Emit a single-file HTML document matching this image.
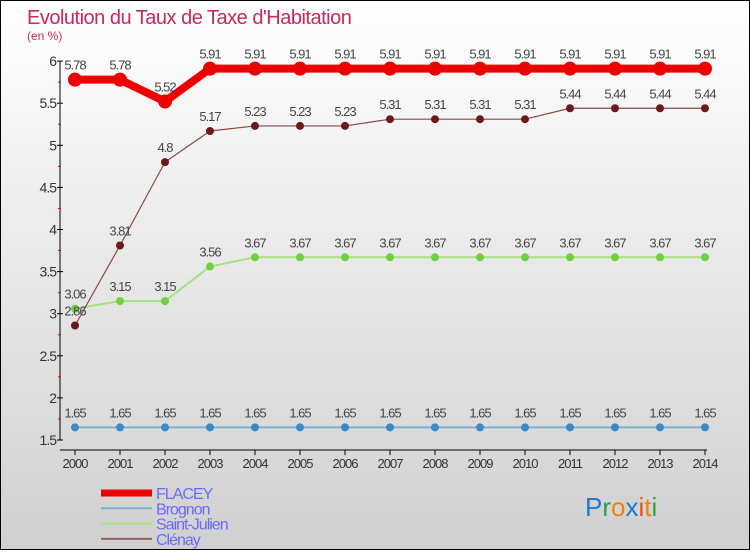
<!DOCTYPE html>
<html><head><meta charset="utf-8"><style>
body{margin:0}
#c{width:748px;height:548px;border:1px solid #000;background:linear-gradient(#ffffff,#d0d0d0);position:relative;font-family:"Liberation Sans",sans-serif}
svg text{font-family:"Liberation Sans",sans-serif}
</style></head><body>
<div id="c">
<svg id="s" width="748" height="548"></svg>
</div>
<script>
const years=[2000,2001,2002,2003,2004,2005,2006,2007,2008,2009,2010,2011,2012,2013,2014];
const flacey=[5.78,5.78,5.52,5.91,5.91,5.91,5.91,5.91,5.91,5.91,5.91,5.91,5.91,5.91,5.91];
const brognon=[1.65,1.65,1.65,1.65,1.65,1.65,1.65,1.65,1.65,1.65,1.65,1.65,1.65,1.65,1.65];
const saintJulien=[3.06,3.15,3.15,3.56,3.67,3.67,3.67,3.67,3.67,3.67,3.67,3.67,3.67,3.67,3.67];
const clenay=[2.86,3.81,4.8,5.17,5.23,5.23,5.23,5.31,5.31,5.31,5.31,5.44,5.44,5.44,5.44];
const yTicks=[1.5,2,2.5,3,3.5,4,4.5,5,5.5,6];
const NS="http://www.w3.org/2000/svg";
const s=document.getElementById('s');
function el(t,a,txt){const e=document.createElementNS(NS,t);for(const k in a)e.setAttribute(k,a[k]);if(txt!==undefined)e.textContent=txt;s.appendChild(e);return e;}
const X=i=>74+i*45;
const Y=v=>439-(v-1.5)*84.2;
let t=el('text',{x:26,y:23,'font-size':20,fill:'#c8285a','letter-spacing':'-0.5'},"Evolution du Taux de Taxe d'Habitation");

t=el('text',{x:26,y:39,'font-size':12,fill:'#c8285a'},"(en %)");

let a=el('line',{x1:59,y1:Y(6),x2:59,y2:Y(1.5),stroke:'#000'});

yTicks.forEach(v=>{el('line',{x1:56,x2:62,y1:Y(v),y2:Y(v),stroke:'#000'});
 const lt=el('text',{x:55,y:Y(v)+5,'font-size':14,fill:'#333','text-anchor':'end','letter-spacing':'-1'},String(v));
 
 if(v<6)el('line',{x1:57,x2:60,y1:Y(v+0.25),y2:Y(v+0.25),stroke:'#e00'});});
a=el('line',{x1:59,y1:449,x2:706,y2:449,stroke:'#000'});

years.forEach((y,i)=>{el('line',{x1:X(i),x2:X(i),y1:449,y2:454,stroke:'#000'});
 const lt=el('text',{x:X(i),y:467,'font-size':13,fill:'#333','text-anchor':'middle','letter-spacing':'-1'},String(y));
 });
function series(d,name,col,lw,r,dot){
 const p=el('polyline',{points:d.map((v,i)=>X(i)+','+Y(v)).join(' '),fill:'none',stroke:col,'stroke-width':lw,'stroke-linejoin':'round'});
 
 d.forEach((v,i)=>{const c=el('circle',{cx:X(i),cy:Y(v),r:r,fill:dot});
  
  const tx=el('text',{x:X(i),y:Y(v)-10,'font-size':13,fill:'#444','text-anchor':'middle','letter-spacing':'-1'},String(v));
  });
}
series(brognon,'brognon','#7aaed0',2,4,'#3a8ac8');
series(saintJulien,'saint-julien','#a8e080',2,4,'#70d040');
series(clenay,'clenay','#8a4848',1.2,4,'#6a1a1a');
series(flacey,'flacey','#ee0000',8,7,'#ee0000');
const leg=[['FLACEY','#ee0000',7],['Brognon','#7aaed0',2],['Saint-Julien','#a8e080',2],['Clénay','#9a6060',2]];
leg.forEach((l,i)=>{const y=492+i*15.3;
 const ln=el('line',{x1:100,x2:151,y1:y,y2:y,stroke:l[1],'stroke-width':l[2]});
 
 const tx=el('text',{x:155,y:y+6,'font-size':16,fill:'#6a6aff','letter-spacing':'-1'},l[0]);
 });
const g=el('text',{x:584,y:515,'font-size':26});

[['P','#1a7ad0'],['r','#30a040'],['o','#f08010'],['x','#1a7ad0'],['i','#f05010'],['t','#f08010'],['i','#30a040']].forEach(c=>{const sp=document.createElementNS(NS,'tspan');sp.setAttribute('fill',c[1]);sp.textContent=c[0];g.appendChild(sp);});
</script>
</body></html>
